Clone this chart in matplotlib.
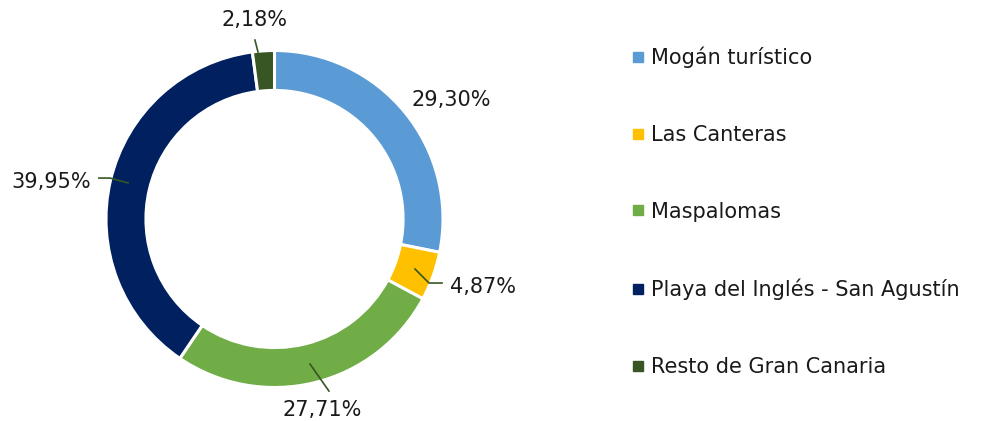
import matplotlib.pyplot as plt
from matplotlib.lines import Line2D

zones = ['Mogán turístico', 'Las Canteras', 'Maspalomas',
         'Playa del Inglés - San Agustín', 'Resto de Gran Canaria']
shares = [29.30, 4.87, 27.71, 39.95, 2.18]
colors = ['#5B9BD5', '#FFC000', '#70AD47', '#002060', '#375623']

# label centres (data units, radius 1 = outer ring)
label_xy = [(1.05, 0.706), (1.237, -0.404), (0.285, -1.133), (-1.326, 0.22), (-0.116, 1.181)]
# leader lines
leaders = [None,
           [(0.834, -0.297), (0.917, -0.380), (0.994, -0.380)],
           [(0.211, -0.861), (0.323, -1.021)],
           [(-1.042, 0.243), (-0.976, 0.243), (-0.869, 0.214)],
           [(-0.116, 1.062), (-0.098, 0.991)]]

plt.rcParams['font.family'] = ['DejaVu Sans']
fig = plt.figure(figsize=(9.86, 4.21), dpi=100)
ax = fig.add_axes([0, 0, 1, 1])

wedges, _ = ax.pie(shares, colors=colors, startangle=90, counterclock=False,
                   radius=1, wedgeprops=dict(width=0.237, edgecolor='white', linewidth=2.2))

for v, (x, y), pts in zip(shares, label_xy, leaders):
    ax.text(x, y, f'{v:.2f}%'.replace('.', ','), ha='center', va='center',
            fontsize=15, color='#1a1a1a')
    if pts:
        ax.plot([p[0] for p in pts], [p[1] for p in pts], color='#375623', lw=1.2)

ax.set_xlim(-274.5 / 168.5, (986 - 274.5) / 168.5)
ax.set_ylim(-(421 - 219) / 168.5, 219 / 168.5)
ax.set_aspect('auto')
ax.axis('off')

handles = [Line2D([], [], marker='s', color=c, ls='', markersize=6.5) for c in colors]
fig.legend(handles, zones, loc='upper left', bbox_to_anchor=(632 / 986, 1 - 46.5 / 421),
           frameon=False, fontsize=15, labelspacing=2.73, handlelength=0.6,
           handletextpad=0.3, borderpad=0, borderaxespad=0, labelcolor='#1a1a1a')

fig.savefig('out.png', dpi=100)
